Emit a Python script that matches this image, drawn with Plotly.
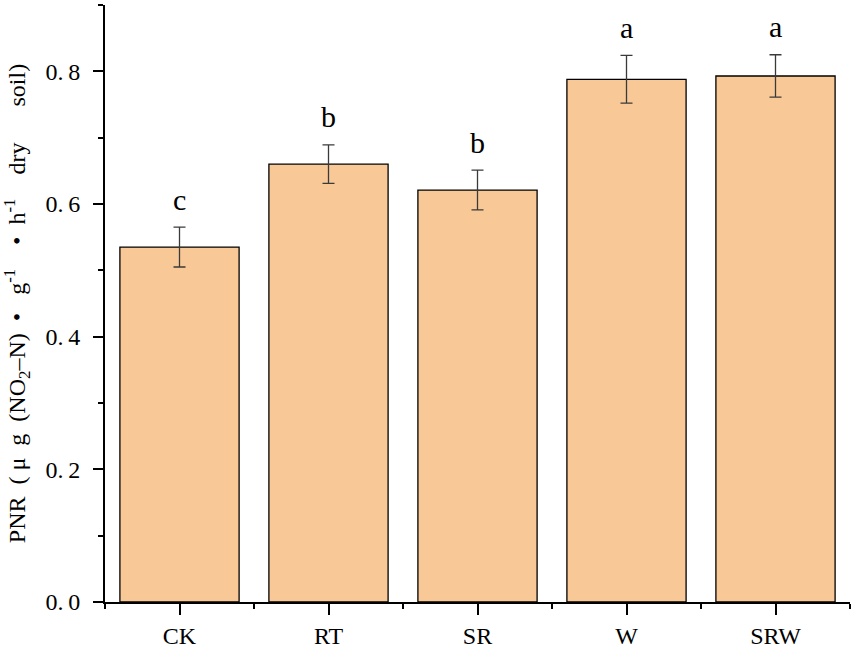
import plotly.graph_objects as go

categories = ["CK", "RT", "SR", "W", "SRW"]
values = [0.535, 0.660, 0.621, 0.788, 0.793]
errors = [0.030, 0.029, 0.030, 0.036, 0.032]
letters = ["c", "b", "b", "a", "a"]
y_ticks = [0.0, 0.2, 0.4, 0.6, 0.8]
y_ticktext = ["0.\u20090", "0.\u20092", "0.\u20094", "0.\u20096", "0.\u20098"]

FONT = "Liberation Serif"
E = "\u2002"
y_title = (E + "PNR" + E + "( μ" + E + "g" + E + "(NO<sub>2</sub>–N)" + E + "•" + E + " "
           + "g<sup>-1</sup>" + E + E + "•" + E + "h<sup>-1</sup>" + E + E + "dry"
           + E + E + E + "soil)")
xpos = list(range(len(categories)))

fig = go.Figure()
fig.add_trace(go.Bar(
    x=xpos, y=values, width=0.8,
    marker=dict(color="#F9C897", line=dict(color="black", width=1.3)),
    error_y=dict(type="data", array=errors, visible=True,
                 color="#3a3a3a", thickness=1.3, width=6),
    showlegend=False,
))

for xi, v, e, t in zip(xpos, values, errors, letters):
    fig.add_annotation(x=xi, y=v + e, text=t, showarrow=False,
                       yanchor="middle", yshift=28,
                       font=dict(family=FONT, size=30, color="black"))

fig.update_layout(
    width=851, height=646,
    margin=dict(l=105, r=1, t=5, b=44),
    plot_bgcolor="white", paper_bgcolor="white",
    font=dict(family=FONT, size=22, color="black"),
)
fig.update_xaxes(
    range=[-0.5, 4.5], tickmode="array", tickvals=xpos, ticktext=categories,
    showline=True, linecolor="black", linewidth=2,
    ticks="outside", ticklen=11, tickwidth=2, tickcolor="black",
    minor=dict(ticks="outside", ticklen=5, tickwidth=2, tickcolor="black",
               tick0=0.5, dtick=1),
    showgrid=False, zeroline=False, automargin=False,
    ticklabelstandoff=0,
    tickfont=dict(family=FONT, size=24),
)
fig.update_yaxes(
    range=[0, 0.9], tickmode="array", tickvals=y_ticks, ticktext=y_ticktext,
    showline=True, linecolor="black", linewidth=2,
    ticks="outside", ticklen=10, tickwidth=2, tickcolor="black",
    minor=dict(ticks="outside", ticklen=5, tickwidth=2, tickcolor="black",
               tick0=0.1, dtick=0.2),
    showgrid=False, zeroline=False, automargin=False,
    ticklabelstandoff=8,
    tickfont=dict(family=FONT, size=24),
    title=dict(text=y_title, font=dict(family=FONT, size=24), standoff=13),
)

fig.write_html("out.html", config={"displayModeBar": False},
               post_script="document.body.style.margin='0';")
